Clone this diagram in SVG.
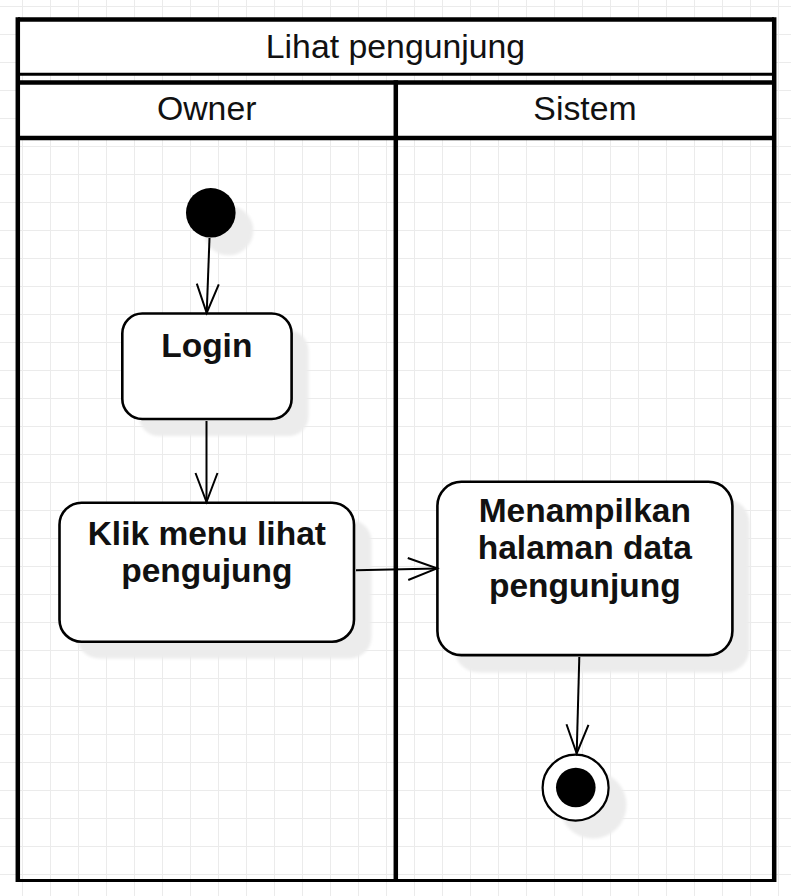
<svg xmlns="http://www.w3.org/2000/svg" width="791" height="896" viewBox="0 0 791 896">
<defs>
<pattern id="grid" x="22" y="6" width="28" height="28" patternUnits="userSpaceOnUse">
<path d="M0,0.5 H28 M0.5,0 V28" fill="none" stroke="#ebebeb" stroke-width="1"/>
</pattern>
<filter id="blur" x="-20%" y="-20%" width="140%" height="140%"><feGaussianBlur stdDeviation="1.5"/></filter>
<marker id="open" markerUnits="userSpaceOnUse" markerWidth="40" markerHeight="30" viewBox="-32 -15 40 30" refX="0" refY="0" orient="auto">
<path d="M-29,-11 L0,0 L-29,11" fill="none" stroke="#000" stroke-width="2"/>
</marker>
</defs>
<style>
.frame{fill:none;stroke:#000;stroke-width:4.5}
.thin{fill:none;stroke:#000;stroke-width:3}
.hdr{font-family:"Liberation Sans",Arial,sans-serif;font-size:33.8px;fill:#111;text-anchor:middle}
.lbl{font-family:"Liberation Sans",Arial,sans-serif;font-size:33.5px;font-weight:bold;fill:#111;text-anchor:middle}
.node{fill:#fff;stroke:#000;stroke-width:2.6}
.shadow{fill:#ececec;filter:url(#blur)}
.edge{fill:none;stroke:#000;stroke-width:2;marker-end:url(#open)}
</style>
<rect width="791" height="896" fill="#fff"/>
<rect width="791" height="896" fill="url(#grid)"/>

<g id="pool">
<rect x="18" y="19.5" width="756" height="54.5" fill="#fff"/>
<rect x="18" y="82.5" width="756" height="55.5" fill="#fff"/>
<line class="frame" x1="18" y1="19.5" x2="774" y2="19.5"/>
<line class="thin" x1="18" y1="74.2" x2="774" y2="74.2"/>
<line class="frame" x1="18" y1="82.5" x2="774" y2="82.5"/>
<line class="frame" x1="18" y1="138" x2="774" y2="138"/>
<line class="thin" x1="18" y1="880.5" x2="774" y2="880.5"/>
<line class="frame" x1="17.8" y1="17.3" x2="17.8" y2="882"/>
<line class="frame" x1="774.2" y1="17.3" x2="774.2" y2="882"/>
<line class="frame" x1="395.8" y1="80.3" x2="395.8" y2="880.5"/>
<text class="hdr" x="395.5" y="57.5">Lihat pengunjung</text>
</g>
<g id="lane-owner"><text class="hdr" x="206.7" y="119.7">Owner</text></g>
<g id="lane-sistem"><text class="hdr" x="585" y="119.7">Sistem</text></g>

<g id="start">
<circle class="shadow" cx="228.5" cy="230.5" r="24.8"/>
<circle cx="210.8" cy="212.8" r="24.8" fill="#000"/>
</g>
<g id="login">
<rect class="shadow" x="139" y="330.5" width="169.5" height="105.5" rx="20"/>
<rect class="node" x="122.3" y="313.5" width="169.3" height="105.5" rx="20"/>
<text class="lbl" x="206.8" y="356.7">Login</text>
</g>
<g id="klik">
<rect class="shadow" x="77" y="519.5" width="294.5" height="139" rx="22"/>
<rect class="node" x="59.5" y="502.7" width="294.5" height="139" rx="22"/>
<text class="lbl" x="206.8" y="544.7">Klik menu lihat<tspan x="206.8" dy="37.5">pengujung</tspan></text>
</g>
<g id="menampilkan">
<rect class="shadow" x="454.5" y="499" width="295" height="173.5" rx="24"/>
<rect class="node" x="437.4" y="481.8" width="295" height="173.3" rx="24"/>
<text class="lbl" x="584.8" y="521.9">Menampilkan<tspan x="584.8" dy="37.5">halaman data</tspan><tspan x="584.8" dy="37.5">pengunjung</tspan></text>
</g>
<g id="end">
<circle class="shadow" cx="593" cy="805" r="33.5"/>
<circle cx="575.6" cy="787.7" r="33" fill="#fff" stroke="#000" stroke-width="2.2"/>
<circle cx="575.8" cy="787.5" r="19.8" fill="#000"/>
</g>

<g id="connectors">
<path class="edge" d="M209.5,238 L206.7,313"/>
<path class="edge" d="M206.5,421 L206.5,502"/>
<path class="edge" d="M356,570.2 L437,568.4"/>
<path class="edge" d="M579.3,657 L576.7,753.5"/>
</g>
</svg>
